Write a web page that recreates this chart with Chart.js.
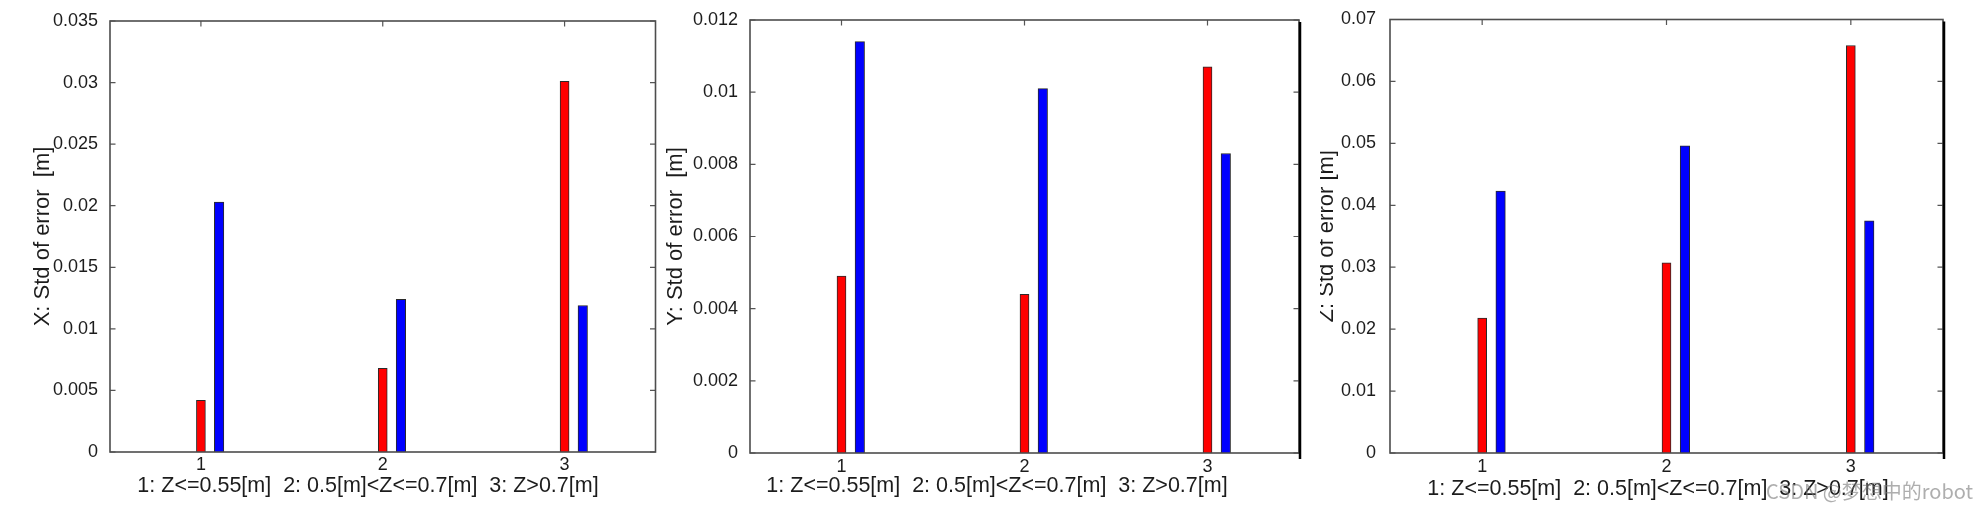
<!DOCTYPE html>
<html>
<head>
<meta charset="utf-8">
<script src="https://cdn.jsdelivr.net/npm/chart.js@4.4.1/dist/chart.umd.min.js"></script>
<style>
  body { margin: 0; background: #fff; width: 1979px; height: 510px; overflow: hidden; position: relative; }
  canvas { position: absolute; top: 0; }
  #mark { position: absolute; left: 1766px; top: 477px; font: 20px "Noto Sans CJK SC", sans-serif; color: rgba(120, 120, 120, 0.6); white-space: nowrap; line-height: 28px; }
</style>
</head>
<body>
<canvas id="chartX" width="660" height="510" style="left:0px"></canvas>
<canvas id="chartY" width="660" height="510" style="left:660px"></canvas>
<canvas id="chartZ" width="659" height="510" style="left:1320px"></canvas>
<div id="mark">CSDN @梦想中的robot</div>
<script>
// bar positions: red at the group, blue 0.1 to the right
const redAt = [1, 2, 3]
const blueAt = [1.1, 2.1, 3.1]
const xTicks = [1, 2, 3]
const caption = "1: Z<=0.55[m]  2: 0.5[m]<Z<=0.7[m]  3: Z>0.7[m]"

// X panel
const xRed = [0.0042, 0.0068, 0.0301]
const xBlue = [0.0203, 0.0124, 0.0119]
const xAxisTicks = [0, 0.005, 0.01, 0.015, 0.02, 0.025, 0.03, 0.035]

// Y panel
const yRed = [0.0049, 0.0044, 0.0107]
const yBlue = [0.0114, 0.0101, 0.0083]
const yAxisTicks = [0, 0.002, 0.004, 0.006, 0.008, 0.01, 0.012]

// Z panel
const zRed = [0.0218, 0.0307, 0.0658]
const zBlue = [0.0423, 0.0496, 0.0375]
const zAxisTicks = [0, 0.01, 0.02, 0.03, 0.04, 0.05, 0.06, 0.07]

const FONT = '"Liberation Sans", Arial, Helvetica, sans-serif'
const TEXT = "#1c1c1c"
const TICK = 5.5

// matlab style box with inward ticks + caption under the axis
const matlabBox = {
  id: "matlabBox",
  beforeDatasetsDraw(chart) {
    const { ctx, chartArea: a, scales: { x, y } } = chart
    ctx.save()
    ctx.strokeStyle = "#555"
    ctx.lineWidth = 1.2
    ctx.beginPath()
    for (const t of y.ticks) {
      const py = y.getPixelForValue(t.value)
      ctx.moveTo(a.left, py); ctx.lineTo(a.left + TICK, py)
      ctx.moveTo(a.right, py); ctx.lineTo(a.right - TICK, py)
    }
    for (const t of x.ticks) {
      const px = x.getPixelForValue(t.value)
      ctx.moveTo(px, a.top); ctx.lineTo(px, a.top + TICK)
      ctx.moveTo(px, a.bottom); ctx.lineTo(px, a.bottom - TICK)
    }
    ctx.stroke()
    ctx.restore()
  },
  afterDatasetsDraw(chart, args, o) {
    const { ctx, chartArea: a } = chart
    ctx.save()
    ctx.strokeStyle = "#4d4d4d"
    ctx.lineWidth = 1.6
    ctx.strokeRect(a.left, a.top, a.right - a.left, a.bottom - a.top)
    if (o.edge) {
      ctx.strokeStyle = "#000"
      ctx.lineWidth = o.edge
      ctx.beginPath()
      ctx.moveTo(a.right + 1, a.top + 2)
      ctx.lineTo(a.right + 1, a.bottom + 6)
      ctx.stroke()
    }
    ctx.fillStyle = TEXT
    ctx.font = "21.5px " + FONT
    ctx.textAlign = "center"
    ctx.textBaseline = "middle"
    ctx.fillText(caption, o.capX, o.capY)
    ctx.restore()
  }
}

function makePanel(id, red, blue, ticks, title, p) {
  return new Chart(document.getElementById(id), {
    type: "bar",
    data: {
      datasets: [
        {
          data: redAt.map((x, i) => ({ x, y: red[i] })),
          backgroundColor: "#ff0000",
          borderColor: "#2a2a2a",
          borderWidth: 1,
          barThickness: 9,
          grouped: false
        },
        {
          data: blueAt.map((x, i) => ({ x, y: blue[i] })),
          backgroundColor: "#0000ff",
          borderColor: "#2a2a2a",
          borderWidth: 1,
          barThickness: 9.5,
          grouped: false
        }
      ]
    },
    options: {
      responsive: false,
      animation: false,
      layout: { padding: { top: p.top, right: p.right, left: 0, bottom: 0 } },
      plugins: {
        legend: { display: false },
        tooltip: { enabled: false },
        matlabBox: { capX: p.capX, capY: p.capY, edge: p.edge }
      },
      scales: {
        x: {
          type: "linear",
          min: 0.5,
          max: 3.5,
          offset: false,
          grid: { display: false },
          border: { display: false },
          afterBuildTicks: (s) => { s.ticks = xTicks.map((v) => ({ value: v })) },
          afterFit: (s) => { s.height = 510 - p.bottom },
          ticks: {
            padding: p.xPad,
            color: TEXT,
            font: { family: FONT, size: 18 },
            callback: (v) => String(v)
          }
        },
        y: {
          min: 0,
          max: ticks[ticks.length - 1],
          grid: { display: false },
          border: { display: false },
          afterBuildTicks: (s) => { s.ticks = ticks.map((v) => ({ value: v })) },
          afterFit: (s) => { s.width = p.left },
          ticks: {
            padding: p.yPad,
            color: TEXT,
            font: { family: FONT, size: 18 },
            callback: (v) => String(v)
          },
          title: {
            display: true,
            text: title,
            color: TEXT,
            font: { family: FONT, size: 22 },
            padding: { top: p.titlePad, bottom: 0 }
          }
        }
      }
    },
    plugins: [matlabBox]
  })
}

makePanel("chartX", xRed, xBlue, xAxisTicks, "X: Std of error  [m]", {
  left: 110, right: 4.5, top: 21, bottom: 452, titlePad: 30, xPad: -6, yPad: 4,
  capX: 368, capY: 486, edge: 0
})
makePanel("chartY", yRed, yBlue, yAxisTicks, "Y: Std of error  [m]", {
  left: 90, right: 21, top: 20, bottom: 453, titlePad: 3, xPad: -5, yPad: 4,
  capX: 337, capY: 486, edge: 2.5
})
makePanel("chartZ", zRed, zBlue, zAxisTicks, "Z: Std of error [m]", {
  left: 70, right: 36, top: 19.5, bottom: 453, titlePad: -6, xPad: -5, yPad: 6,
  capX: 338, capY: 489, edge: 2.5
})
</script>
</body>
</html>
